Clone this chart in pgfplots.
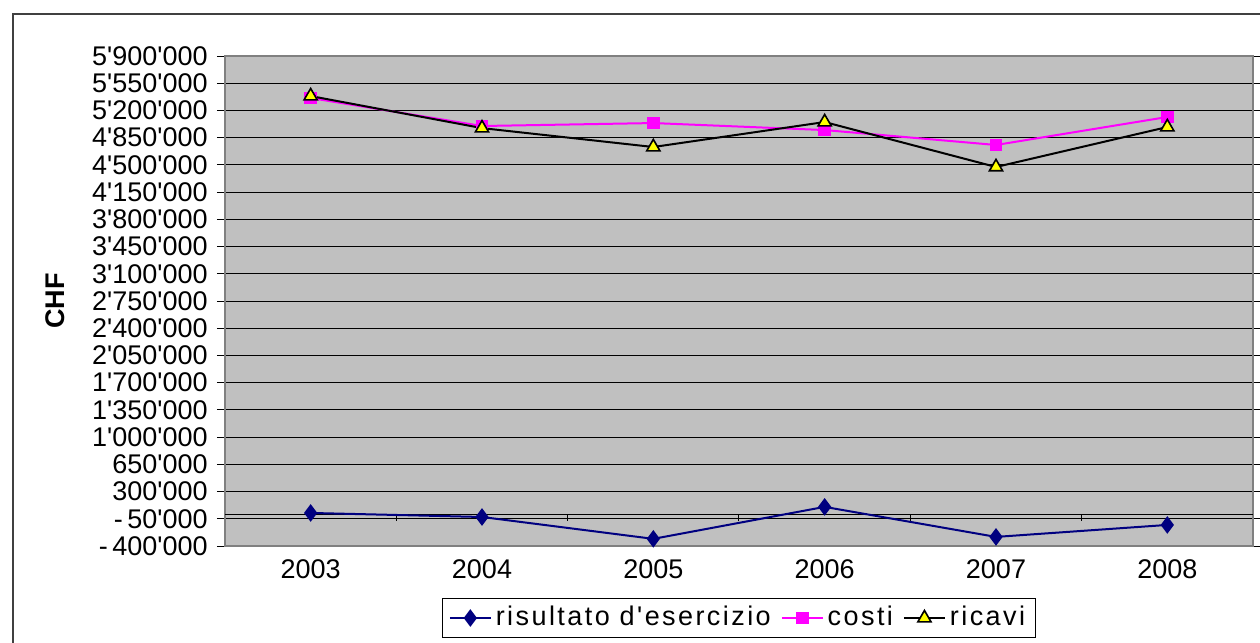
\documentclass[border=0pt]{standalone}
\usepackage{pgfplots}
\pgfplotsset{compat=1.18}
\usepackage{fontspec}
\setmainfont{Liberation Sans}[Ligatures=TeXOff]
\newfontfamily\legfont{Liberation Sans}[Ligatures=TeXOff, LetterSpace=9]
\definecolor{plotgray}{HTML}{C0C0C0}
\definecolor{bordergray}{HTML}{808080}
\definecolor{navyc}{HTML}{000080}
\definecolor{mag}{HTML}{FF00FF}
\definecolor{yel}{HTML}{FFFF00}
\begin{document}
\fontsize{13.5}{16}\selectfont
\begin{tikzpicture}
\useasboundingbox (0,0) rectangle (630pt,-321.5pt);
\draw[line width=0.9pt, black!75] (6.5pt,-340pt) -- (6.5pt,-7pt) -- (650pt,-7pt);
\begin{axis}[
  at={(112.5pt,-273pt)}, anchor=south west,
  width=514pt, height=245pt, scale only axis,
  xmin=-0.5, xmax=5.5, ymin=-400000, ymax=5900000,
  scaled y ticks=false,
  axis background/.style={fill=plotgray},
  axis line style={draw=bordergray, line width=0.8pt},
  xtick={0,1,2,3,4,5},
  xticklabels={2003,2004,2005,2006,2007,2008},
  x tick style={draw=none},
  xticklabel style={yshift=2pt},
  ytick={-400000,-50000,300000,650000,1000000,1350000,1700000,2050000,2400000,2750000,3100000,3450000,3800000,4150000,4500000,4850000,5200000,5550000,5900000},
  yticklabels={-\,400'000,-\,50'000,300'000,650'000,1'000'000,1'350'000,1'700'000,2'050'000,2'400'000,2'750'000,3'100'000,3'450'000,3'800'000,4'150'000,4'500'000,4'850'000,5'200'000,5'550'000,5'900'000},
  y tick style={draw=black, line width=0.5pt},
  tick align=outside, major tick length=4pt,
  ymajorgrids, grid style={draw=black, line width=0.5pt},
  ylabel={\textbf{CHF}},
  ylabel style={at={(axis description cs:-0.165,0.5)}, anchor=center},
  legend style={at={(axis description cs:0.5,-0.147)}, anchor=center,
    legend columns=-1, draw=black, fill=white, line width=0.6pt,
    font=\legfont, inner ysep=2pt,
    /tikz/every even column/.append style={column sep=3pt}},
  legend image code/.code={\draw[mark repeat=2,mark phase=2] plot coordinates {(0cm,0cm) (0.36cm,0cm) (0.72cm,0cm)};},
  legend cell align=left,
]
\draw[black, line width=0.5pt] (axis cs:-0.5,0) -- (axis cs:5.5,0);
\pgfplotsinvokeforeach{0.5,1.5,2.5,3.5,4.5}{
  \draw[black, line width=0.5pt] (axis cs:#1,0) -- ([yshift=-3pt]axis cs:#1,0);
}
\addplot[navyc, line width=1pt, mark=diamond*, mark size=3.6pt, mark options={fill=navyc, draw=navyc}]
  coordinates {(0,25000) (1,-27000) (2,-308000) (3,103000) (4,-283000) (5,-129000)};
\addlegendentry{risultato d'esercizio}
\addplot[mag, line width=1pt, mark=square*, mark size=2.7pt, mark options={fill=mag, draw=mag}]
  coordinates {(0,5360000) (1,5000000) (2,5038000) (3,4948000) (4,4756000) (5,5116000)};
\addlegendentry{costi}
\addplot[black, line width=1pt, mark=triangle*, mark size=3.8pt, mark options={fill=yel, draw=black, line width=0.8pt}]
  coordinates {(0,5385000) (1,4973000) (2,4730000) (3,5051000) (4,4473000) (5,4987000)};
\addlegendentry{ricavi}
\end{axis}
\end{tikzpicture}
\end{document}
